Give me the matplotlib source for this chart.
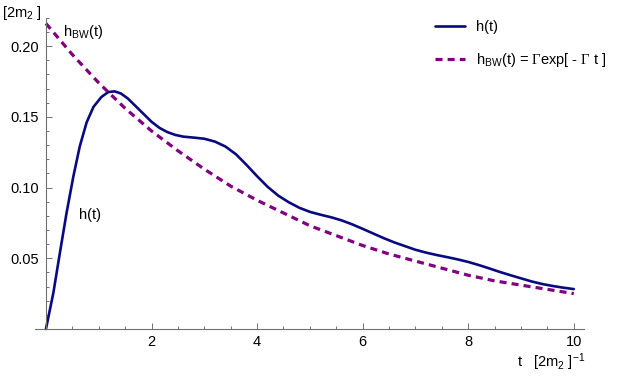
import matplotlib
matplotlib.use('Agg')
import matplotlib.pyplot as plt
from matplotlib.ticker import MultipleLocator

plt.rcParams['font.family'] = ['Liberation Sans', 'DejaVu Sans']
plt.rcParams['mathtext.fontset'] = 'custom'
plt.rcParams['mathtext.rm'] = 'Liberation Sans'
plt.rcParams['mathtext.it'] = 'Liberation Sans'
plt.rcParams['mathtext.sf'] = 'Liberation Serif'

# h(t)
t_h = [0, 0.14, 0.265, 0.39, 0.52, 0.64, 0.77, 0.90, 1.05, 1.18, 1.3, 1.42, 1.55, 1.7,
       1.85, 2.0, 2.15, 2.3, 2.45, 2.6, 2.8, 3.0, 3.2, 3.4, 3.6, 3.8, 4.0, 4.2, 4.4, 4.6,
       4.8, 5.0, 5.2, 5.4, 5.6, 5.8, 6.0, 6.2, 6.4, 6.6, 6.8, 7.0, 7.2, 7.4, 7.6, 7.8,
       8.0, 8.2, 8.4, 8.6, 8.8, 9.0, 9.2, 9.4, 9.6, 9.8, 10]
h_vals = [0, 0.0255, 0.054, 0.082, 0.108, 0.129, 0.146, 0.157, 0.164, 0.1675, 0.168,
          0.1665, 0.163, 0.1575, 0.152, 0.1465, 0.1422, 0.1392, 0.1372, 0.136, 0.1353,
          0.1345, 0.1325, 0.129, 0.1235, 0.116, 0.108, 0.1005, 0.0943, 0.0896, 0.0857,
          0.0828, 0.0808, 0.0790, 0.0768, 0.0740, 0.0708, 0.0675, 0.0642, 0.0612,
          0.0586, 0.0560, 0.0540, 0.0523, 0.0508, 0.0492, 0.0474, 0.0452, 0.0428,
          0.0403, 0.038, 0.0358, 0.0336, 0.0318, 0.0304, 0.0292, 0.0282]

# h_BW(t)
t_bw = [0, 0.5, 1, 1.5, 2, 2.5, 3, 3.5, 4, 4.5, 5, 5.5, 6, 6.5, 7, 7.5, 8, 8.5, 9, 9.5, 10]
bw_vals = [0.216, 0.194, 0.174, 0.156, 0.140, 0.126, 0.113, 0.101, 0.091, 0.082, 0.073,
           0.066, 0.059, 0.053, 0.048, 0.043, 0.038, 0.034, 0.031, 0.028, 0.025]

fig = plt.figure(figsize=(6.21, 3.79), dpi=100)
ax = fig.add_axes([0.057, 0.132, 0.884, 0.821])

solid, = ax.plot(t_h, h_vals, color='#0a0a80', lw=1.9, clip_on=False,
                 solid_joinstyle='round', solid_capstyle='round', label='h(t)')
dashed, = ax.plot(t_bw, bw_vals, color='#800080', lw=2.3, dashes=(2.2, 1.6), clip_on=False,
                  label=r'h$_{\rm BW}$(t) = $\mathsf{\Gamma}$exp[ - $\mathsf{\Gamma}$ t ]')

ax.set_xlim(-0.2, 10.2)
ax.set_ylim(0, 0.22)

for s in ['top', 'right']:
    ax.spines[s].set_visible(False)
ax.spines['left'].set_position(('data', 0))
for s in ['left', 'bottom']:
    ax.spines[s].set_color('#707070')
    ax.spines[s].set_linewidth(0.8)

ax.xaxis.set_minor_locator(MultipleLocator(0.5))
ax.yaxis.set_minor_locator(MultipleLocator(0.01))
ax.set_xticks([2, 4, 6, 8, 10])
ax.set_xticklabels(['2', '4', '6', '8', '10'])
ax.set_yticks([0.05, 0.10, 0.15, 0.20])
ax.set_yticklabels(['0.05', '0.10', '0.15', '0.20'])
ax.tick_params(which='both', direction='in', color='#707070', width=0.7, labelsize=10.5)
ax.tick_params(which='major', length=4)
ax.tick_params(which='minor', length=2.5)
ax.tick_params(axis='x', pad=4)
ax.tick_params(axis='y', pad=5)

ax.text(0.33, 0.207, r'h$_{\rm BW}$(t)', fontsize=10.5)
ax.text(0.63, 0.078, 'h(t)', fontsize=10.5)

fig.text(0.003, 0.955, r'[2m$_2$ ]', fontsize=10.5, va='baseline')
fig.text(0.832, 0.032, r't   [2m$_2$ ]$^{-1}$', fontsize=10.5, va='baseline')

ax.legend(handles=[solid, dashed], loc='upper left', bbox_to_anchor=(0.68, 0.982),
          bbox_transform=fig.transFigure, frameon=False, fontsize=10.5,
          handlelength=2.0, handletextpad=0.8, labelspacing=1.15)

plt.savefig('out.png', dpi=100)
